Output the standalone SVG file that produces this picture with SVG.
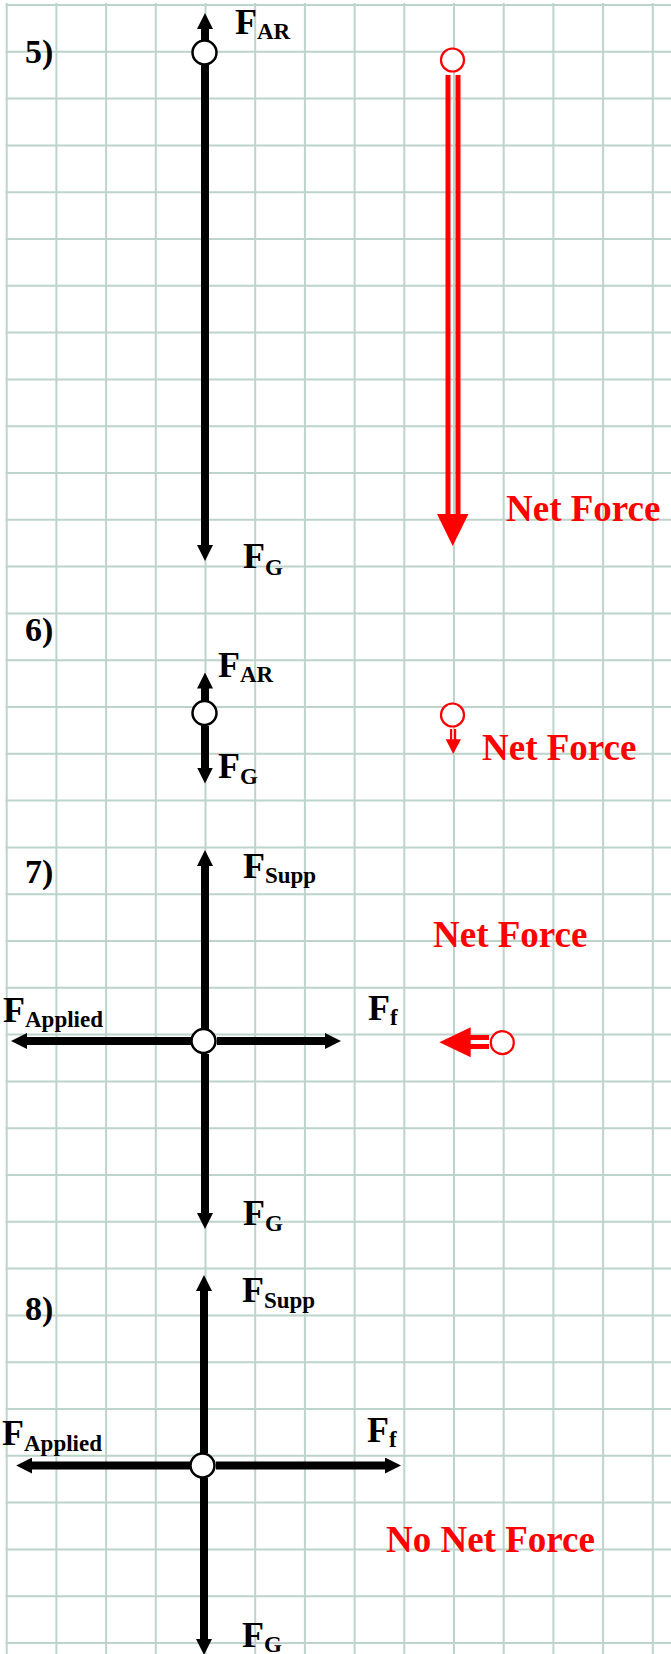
<svg xmlns="http://www.w3.org/2000/svg" width="671" height="1654" viewBox="0 0 671 1654">
<style>
.grid{fill:none;stroke:#bdd4cc;stroke-width:2}
.vec{stroke:#000;stroke-width:8;fill:none;marker-end:url(#ah)}
.body{fill:#fff;stroke:#000;stroke-width:2.5}
.rbody{fill:#fff;stroke:#f00;stroke-width:2.2}
.rhead{fill:#f00}
.num{font-family:"Liberation Serif","Times New Roman",serif;font-weight:bold;font-size:34px;fill:#000}
.lab{font-family:"Liberation Serif","Times New Roman",serif;font-weight:bold;font-size:36px;fill:#000}
.sub{font-size:23px}
.net{font-family:"Liberation Serif","Times New Roman",serif;font-weight:bold;font-size:37px;fill:#f00}
</style>
<defs>
<marker id="ah" viewBox="0 -8 16 16" markerWidth="16" markerHeight="16" refX="0.5" refY="0" orient="auto" markerUnits="userSpaceOnUse">
<path d="M0,-8 L16,0 L0,8 z" fill="#000"/>
</marker>
</defs>
<rect width="671" height="1654" fill="#fff"/>
<g id="grid">
<path class="grid" d="M6.7 3V1654M56.4 3V1654M106.1 3V1654M155.8 3V1654M205.5 3V1654M255.2 3V1654M304.9 3V1654M354.6 3V1654M404.3 3V1654M454 3V1654M503.7 3V1654M553.4 3V1654M603.1 3V1654M652.8 3V1654"/>
<path class="grid" d="M5.7 5H671M5.7 51.8H671M5.7 98.6H671M5.7 145.4H671M5.7 192.2H671M5.7 239H671M5.7 285.8H671M5.7 332.6H671M5.7 379.4H671M5.7 426.2H671M5.7 473H671M5.7 519.8H671M5.7 566.6H671M5.7 613.4H671M5.7 660.2H671M5.7 707H671M5.7 753.8H671M5.7 800.6H671M5.7 847.4H671M5.7 894.2H671M5.7 941H671M5.7 987.8H671M5.7 1034.6H671M5.7 1081.4H671M5.7 1128.2H671M5.7 1175H671M5.7 1221.8H671M5.7 1268.6H671M5.7 1315.4H671M5.7 1362.2H671M5.7 1409H671M5.7 1455.8H671M5.7 1502.6H671M5.7 1549.4H671M5.7 1596.2H671M5.7 1643H671"/>
</g>
<g id="connectors">
<line class="vec" x1="205" y1="40" x2="205" y2="28.5"/>
<line class="vec" x1="205" y1="65" x2="205" y2="545.5"/>
<rect class="rhead" x="445.5" y="75" width="5" height="440"/>
<rect class="rhead" x="455.5" y="75" width="5" height="440"/>
<polygon class="rhead" points="437,514 468.5,514 452.7,546"/>
<line class="vec" x1="205" y1="701" x2="205" y2="688"/>
<line class="vec" x1="205" y1="726" x2="205" y2="768"/>
<rect class="rhead" x="450" y="729" width="2.2" height="11"/>
<rect class="rhead" x="454" y="729" width="2.2" height="11"/>
<polygon class="rhead" points="445.7,739.3 461,739.3 453.2,754"/>
<line class="vec" x1="205" y1="1029" x2="205" y2="865.5"/>
<line class="vec" x1="192" y1="1041" x2="26.5" y2="1041"/>
<line class="vec" x1="217" y1="1041" x2="325.5" y2="1041"/>
<line class="vec" x1="205" y1="1054" x2="205" y2="1213.5"/>
<rect class="rhead" x="469" y="1035" width="20" height="5"/>
<rect class="rhead" x="469" y="1044" width="20" height="5"/>
<polygon class="rhead" points="470.7,1027.3 470.7,1057.3 439.3,1042.3"/>
<line class="vec" x1="204" y1="1453" x2="204" y2="1290.5"/>
<line class="vec" x1="191" y1="1465.5" x2="31.7" y2="1465.5"/>
<line class="vec" x1="216" y1="1465.5" x2="385.5" y2="1465.5"/>
<line class="vec" x1="204" y1="1478" x2="204" y2="1639.5"/>
</g>
<g id="p5">
<text class="num" x="25" y="63">5)</text>
<circle id="body5" class="body" cx="204.5" cy="52.5" r="12"/>
<text class="lab" x="235" y="34">F<tspan class="sub" dy="5">AR</tspan></text>
<text class="lab" x="243" y="568">F<tspan class="sub" dy="7">G</tspan></text>
<circle id="net5" class="rbody" cx="452.5" cy="60" r="11.5"/>
<text class="net" x="506" y="521">Net Force</text>
</g>
<g id="p6">
<text class="num" x="25" y="641">6)</text>
<circle id="body6" class="body" cx="204.5" cy="713" r="12"/>
<text class="lab" x="218" y="677">F<tspan class="sub" dy="5">AR</tspan></text>
<text class="lab" x="218" y="778">F<tspan class="sub" dy="6">G</tspan></text>
<circle id="net6" class="rbody" cx="452.5" cy="715" r="11.5"/>
<text class="net" x="482" y="760">Net Force</text>
</g>
<g id="p7">
<text class="num" x="25" y="883">7)</text>
<circle id="body7" class="body" cx="203.5" cy="1041" r="12"/>
<text class="lab" x="243" y="878">F<tspan class="sub" dy="5">Supp</tspan></text>
<text class="lab" x="3" y="1022">F<tspan class="sub" dy="5">Applied</tspan></text>
<text class="lab" x="368" y="1020">F<tspan class="sub" dy="5">f</tspan></text>
<text class="lab" x="243" y="1225">F<tspan class="sub" dy="6">G</tspan></text>
<text class="net" x="433" y="947">Net Force</text>
<circle id="net7" class="rbody" cx="502.3" cy="1042.7" r="11.5"/>
</g>
<g id="p8">
<text class="num" x="25" y="1320">8)</text>
<circle id="body8" class="body" cx="202.5" cy="1465.5" r="12"/>
<text class="lab" x="242" y="1302">F<tspan class="sub" dy="6">Supp</tspan></text>
<text class="lab" x="2" y="1445">F<tspan class="sub" dy="6">Applied</tspan></text>
<text class="lab" x="367" y="1442">F<tspan class="sub" dy="5">f</tspan></text>
<text class="lab" x="242" y="1647">F<tspan class="sub" dy="5">G</tspan></text>
<text class="net" x="386" y="1552">No Net Force</text>
</g>
</svg>
